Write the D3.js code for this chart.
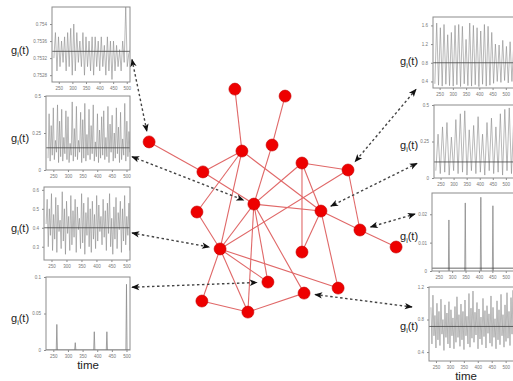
<!DOCTYPE html>
<html>
<head>
<meta charset="utf-8">
<script src="https://cdn.jsdelivr.net/npm/d3@7"></script>
<style>
  html, body { margin: 0; padding: 0; background: #fff; }
  svg { display: block; font-family: "Liberation Sans", Arial, sans-serif; }
</style>
</head>
<body>
<div id="chart"></div>
<script>
// time axis shared by all the insets
const timeDomain = [225, 512];
const timeTicks = [250, 300, 350, 400, 450, 500];

// left column
const seriesL1 = [0.7532,0.7538,0.7529,0.7537,0.7530,0.7536,0.7531,0.7537,0.7529,0.7538,0.7530,0.7539,0.7528,0.7540,0.7529,0.7538,0.7531,0.7536,0.7530,0.7538,0.7528,0.7537,0.7530,0.7536,0.7529,0.7537,0.7528,0.7537,0.7530,0.7536,0.7529,0.7537,0.7530,0.7535,0.7528,0.7537,0.7529,0.7536,0.7527,0.7536,0.7529,0.7535,0.7530,0.7534,0.7529,0.7536,0.7531,0.7544,0.7530,0.7533,0.7534,0.7541,0.7531,0.7535];
const ticksL1 = [0.7528, 0.7532, 0.7536, 0.754];
const meanL1 = 0.75336;

const seriesL2 = [0.08,0.38,0.06,0.30,0.10,0.42,0.07,0.20,0.12,0.44,0.05,0.33,0.09,0.41,0.06,0.22,0.11,0.40,0.07,0.36,0.05,0.18,0.10,0.46,0.06,0.28,0.09,0.43,0.07,0.20,0.12,0.39,0.05,0.34,0.08,0.45,0.06,0.24,0.10,0.41,0.07,0.30,0.11,0.44,0.06,0.19,0.09,0.38,0.05,0.27,0.08,0.36,0.10,0.40,0.07,0.22,0.09,0.43,0.05,0.31,0.12,0.37,0.06,0.25,0.08,0.42,0.11,0.29,0.05,0.39,0.07,0.21,0.10,0.45,0.06,0.33,0.09,0.26,0.12,0.40,0.07,0.35,0.10,0.30];
const ticksL2 = [0, 0.25, 0.5];
const meanL2 = 0.15;

const seriesL3 = [0.42,0.55,0.30,0.50,0.36,0.58,0.28,0.47,0.34,0.56,0.27,0.52,0.38,0.44,0.29,0.59,0.33,0.50,0.26,0.54,0.37,0.46,0.28,0.57,0.31,0.49,0.35,0.55,0.27,0.51,0.39,0.45,0.29,0.58,0.32,0.53,0.26,0.48,0.36,0.56,0.30,0.50,0.27,0.54,0.34,0.47,0.29,0.57,0.33,0.52,0.38,0.46,0.31,0.55,0.35,0.49,0.28,0.53,0.37,0.58,0.30,0.45,0.26,0.51,0.34,0.56,0.29,0.48,0.39,0.54,0.27,0.50,0.33,0.57,0.31,0.46,0.36,0.53,0.28,0.55,0.35,0.47,0.30,0.52];
const ticksL3 = [0.3, 0.4, 0.5, 0.6];
const meanL3 = 0.4;

// spikes: [time, value]
const spikesL4 = [[262, 0.035], [325, 0.01], [390, 0.025], [433, 0.025], [500, 0.09]];
const ticksL4 = [0, 0.05, 0.1];
const meanL4 = 0;

// right column
const seriesR1 = [0.35,1.65,0.32,1.55,0.30,1.62,0.34,1.40,0.31,1.45,0.30,1.60,0.33,1.62,0.29,1.58,0.35,1.30,0.31,1.65,0.30,1.60,0.33,1.55,0.29,1.48,0.34,1.62,0.30,1.58,0.32,1.45,0.36,1.20,0.40,1.18,0.38,1.28,0.42,1.15,0.37,1.25,0.40,1.20];
const ticksR1 = [0.4, 0.8, 1.2, 1.6];
const meanR1 = 0.8;

const seriesR2 = [0.05,0.30,0.03,0.35,0.04,0.38,0.02,0.28,0.05,0.40,0.03,0.44,0.04,0.46,0.02,0.33,0.05,0.36,0.03,0.42,0.04,0.30,0.02,0.38,0.05,0.41,0.03,0.35,0.04,0.44,0.02,0.47,0.05,0.48,0.03,0.40];
const ticksR2 = [0, 0.25, 0.5];
const meanR2 = 0.11;

const spikesR3 = [[288, 0.018], [349, 0.024], [407, 0.026], [452, 0.023]];
const ticksR3 = [0, 0.01, 0.02];
const meanR3 = 0.001;

const seriesR4 = [0.95,0.50,1.10,0.60,0.85,0.45,1.00,0.55,0.90,0.48,1.05,0.62,0.80,0.42,0.98,0.58,0.88,0.50,1.02,0.45,0.92,0.60,0.82,0.44,0.96,0.52,1.08,0.58,0.86,0.47,0.99,0.55,0.90,0.43,1.04,0.60,0.84,0.50,1.12,0.46,0.94,0.57,1.15,0.52,0.89,0.61,1.01,0.44,0.93,0.56,0.83,0.49,1.06,0.59,0.91,0.45,0.97,0.63,0.87,0.51,1.09,0.47,0.95,0.58,0.81,0.44,1.03,0.55,0.92,0.49,1.11,0.60,0.86,0.46,0.98,0.53,1.13,0.57,0.90,0.48,1.07,0.62,1.16,0.55];
const ticksR4 = [0.4, 0.8, 1.2];
const meanR4 = 0.715;

// network nodes (id, x, y in a 0-100 layout space) and links
const nodeIds = ['A','B','C','D','E','F','G','H','I','J','K','L','M','N','O','P','Q','R','S','T'];
const nodeX = [36.5,55.8,50.8,39.2,24.2,62.3,80,43.8,69.6,21.9,84.6,30.8,62.3,49.2,76.2,23.8,63.1,41.5,3.5,98.5];
const nodeY = [3.8,6.7,27.1,29.6,38.3,34.6,37.5,51.7,54.6,55,62.5,70.4,71.7,84.2,86.7,92.1,88.8,96.7,25.8,69.6];
const links = ['A-D','B-C','C-H','S-E','E-D','E-H','D-J','D-L','D-I','F-G','F-I','F-H','F-M','G-K','G-L',
  'I-H','I-M','I-O','I-K','K-T','L-J','L-H','L-N','L-O','L-P','L-R','P-R','R-Q','H-N','H-Q','H-R'];

// which node each inset points at
const arrowTargets = ['S','H','L','N','G','I','K','Q'];

const W = 513, H = 381;
const svg = d3.select('#chart').append('svg').attr('width', W).attr('height', H);
svg.append('rect').attr('width', W).attr('height', H).attr('fill', '#fff');

const defs = svg.append('defs');
defs.append('marker')
  .attr('id', 'head')
  .attr('viewBox', '0 0 10 10')
  .attr('refX', 9).attr('refY', 5)
  .attr('markerWidth', 11).attr('markerHeight', 8)
  .attr('markerUnits', 'userSpaceOnUse')
  .attr('orient', 'auto-start-reverse')
  .append('path').attr('d', 'M0,1 L10,5 L0,9 L2.5,5 Z').attr('fill', '#111');

const nx = d3.scaleLinear().domain([0, 100]).range([140, 400]);
const ny = d3.scaleLinear().domain([0, 100]).range([80, 320]);
const nodes = nodeIds.map((id, i) => ({ id, x: nx(nodeX[i]), y: ny(nodeY[i]) }));
const byId = Object.fromEntries(nodes.map(n => [n.id, n]));

// inset layout (xr = width used by the time scale)
const panels = [
  { x: 52, y: 7, w: 78, xr: 78, h: 75, dom: [0.75264, 0.7544], vals: seriesL1, ticks: ticksL1, mean: meanL1, side: 'L', ay: 0.7, ly: 0.62 },
  { x: 46, y: 96, w: 84, xr: 84, h: 74, dom: [0, 0.5], vals: seriesL2, ticks: ticksL2, mean: meanL2, side: 'L', ay: 0.82, ly: 0.62 },
  { x: 44, y: 187, w: 86, xr: 86, h: 73, dom: [0.23, 0.615], vals: seriesL3, ticks: ticksL3, mean: meanL3, side: 'L', ay: 0.63, ly: 0.62 },
  { x: 46, y: 277, w: 84, xr: 84, h: 73, dom: [0, 0.1], spikes: spikesL4, ticks: ticksL4, mean: meanL4, side: 'L', ay: 0.14, ly: 0.62, time: true },
  { x: 433, y: 17, w: 90, xr: 76, h: 71, dom: [0.26, 1.78], vals: seriesR1, ticks: ticksR1, mean: meanR1, side: 'R', ay: 1.02, ly: 0.68 },
  { x: 434, y: 105, w: 90, xr: 75, h: 73, dom: [0, 0.5], vals: seriesR2, ticks: ticksR2, mean: meanR2, side: 'R', ay: 0.8, ly: 0.6 },
  { x: 432, y: 193, w: 90, xr: 77, h: 78, dom: [0, 0.0275], spikes: spikesR3, ticks: ticksR3, mean: meanR3, side: 'R', ay: 0.27, ly: 0.6 },
  { x: 429, y: 287, w: 90, xr: 80, h: 74, dom: [0.29, 1.2], vals: seriesR4, ticks: ticksR4, mean: meanR4, side: 'R', ay: 0.27, ly: 0.58, time: true }
];

panels.forEach((p, k) => {
  const g = svg.append('g').attr('transform', `translate(${p.x},${p.y})`);
  const x = d3.scaleLinear().domain(timeDomain).range([0, p.xr]);
  const y = d3.scaleLinear().domain(p.dom).range([p.h, 0]);

  g.append('clipPath').attr('id', 'clip' + k)
    .append('rect').attr('width', p.w).attr('height', p.h);
  const plot = g.append('g').attr('clip-path', `url(#clip${k})`);

  if (p.vals) {
    const idx = d3.scaleLinear().domain([0, p.vals.length - 1]).range([232, 530]);
    plot.append('path')
      .datum(p.vals)
      .attr('fill', 'none')
      .attr('stroke', '#8a8a8a')
      .attr('stroke-width', 0.6)
      .attr('d', d3.line().x((d, i) => x(idx(i))).y(d => y(d)));
  } else {
    plot.selectAll('path.spike')
      .data(p.spikes)
      .enter().append('path')
      .attr('class', 'spike')
      .attr('fill', 'none')
      .attr('stroke', '#8a8a8a')
      .attr('stroke-width', 0.8)
      .attr('d', d => d3.line()([[x(d[0] - 2), y(p.dom[0])], [x(d[0]), y(d[1])], [x(d[0] + 2), y(p.dom[0])]]));
  }

  // mean level
  plot.append('line')
    .attr('x1', 0).attr('x2', p.w)
    .attr('y1', y(p.mean)).attr('y2', y(p.mean))
    .attr('stroke', '#444').attr('stroke-width', 0.8);

  g.append('rect').attr('width', p.w).attr('height', p.h)
    .attr('fill', 'none').attr('stroke', '#8c8c8c').attr('stroke-width', 1);

  const xa = g.append('g').attr('transform', `translate(0,${p.h})`)
    .call(d3.axisBottom(x).tickValues(timeTicks).tickSize(2).tickSizeOuter(0));
  const ya = g.append('g')
    .call(d3.axisLeft(y).tickValues(p.ticks).tickFormat(d => d).tickSize(2).tickSizeOuter(0));
  [xa, ya].forEach(a => {
    a.select('.domain').remove();
    a.selectAll('line').attr('stroke', '#8c8c8c');
    a.selectAll('text').attr('fill', '#777').style('font-size', '4.5px');
  });

  // g_i(t) label
  const lx = p.side === 'L' ? 11 : 400;
  const lab = svg.append('text')
    .attr('x', lx).attr('y', p.y + p.h * p.ly)
    .attr('fill', '#222').style('font-size', '11px');
  lab.append('tspan').text('g');
  lab.append('tspan').attr('dy', 3).style('font-size', '7px').text('i');
  lab.append('tspan').attr('dy', -3).text('(t)');

  if (p.time) {
    svg.append('text')
      .attr('x', p.x + p.w / 2 + (p.side === 'R' ? -8 : 0)).attr('y', p.y + p.h + (p.side === 'R' ? 19 : 19))
      .attr('text-anchor', 'middle').attr('fill', '#222')
      .style('font-size', '11.5px').text('time');
  }
});

// network links
svg.append('g').selectAll('line')
  .data(links.map(l => l.split('-')))
  .enter().append('line')
  .attr('x1', d => byId[d[0]].x).attr('y1', d => byId[d[0]].y)
  .attr('x2', d => byId[d[1]].x).attr('y2', d => byId[d[1]].y)
  .attr('stroke', '#e06868').attr('stroke-width', 1.1);

// dotted double-headed arrows between insets and nodes
svg.append('g').selectAll('line')
  .data(panels.map((p, i) => ({ p, n: byId[arrowTargets[i]] })))
  .enter().append('line')
  .each(function (d) {
    const sx = d.p.side === 'L' ? d.p.x + d.p.w + 2 : d.p.x - 17;
    const sy = d.p.y + d.p.h * d.p.ay;
    const dx = d.n.x - sx, dy = d.n.y - sy, len = Math.hypot(dx, dy);
    d.x1 = sx; d.y1 = sy;
    d.x2 = d.n.x - dx / len * 11; d.y2 = d.n.y - dy / len * 11;
  })
  .attr('x1', d => d.x1).attr('y1', d => d.y1)
  .attr('x2', d => d.x2).attr('y2', d => d.y2)
  .attr('stroke', '#444').attr('stroke-width', 1.4)
  .attr('stroke-dasharray', '2.5,2.5')
  .attr('marker-start', 'url(#head)').attr('marker-end', 'url(#head)');

// nodes
svg.append('g').selectAll('circle')
  .data(nodes)
  .enter().append('circle')
  .attr('cx', d => d.x).attr('cy', d => d.y).attr('r', 6)
  .attr('fill', '#ee0000').attr('stroke', '#c40000').attr('stroke-width', 0.6);
</script>
</body>
</html>
